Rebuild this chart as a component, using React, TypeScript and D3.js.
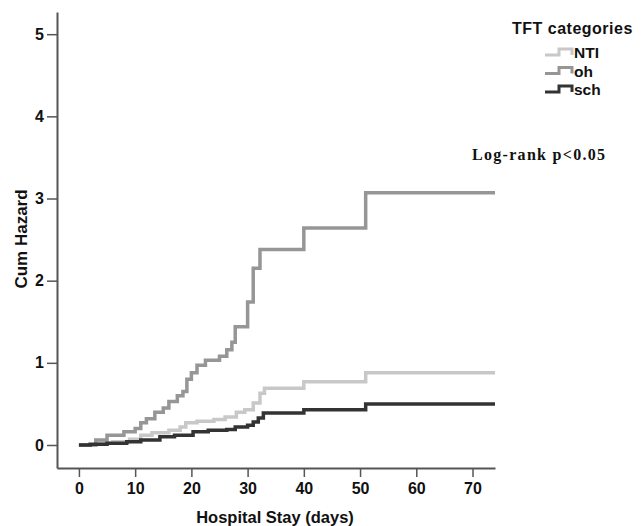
import React, { useEffect, useRef } from 'react';
import * as d3 from 'd3';

// step points: day, cumulative hazard
const ntiDays = [0, 3, 6, 9, 11, 13, 16, 18, 19, 21, 24, 26, 28, 29.5, 31, 32.2, 33, 40, 51, 74];
const ntiVals = [0, 0.02, 0.04, 0.07, 0.12, 0.15, 0.18, 0.22, 0.27, 0.29, 0.31, 0.34, 0.4, 0.43, 0.51, 0.63, 0.69, 0.77, 0.88, 0.88];

const ohDays = [0, 3, 5, 8, 10, 11, 12, 13.5, 15, 16, 17.5, 18.5, 19.2, 20, 21, 22.5, 25, 26.3, 27.2, 27.8, 30, 31, 32.2, 33, 40, 51, 74];
const ohVals = [0, 0.06, 0.12, 0.16, 0.2, 0.27, 0.32, 0.4, 0.45, 0.53, 0.6, 0.65, 0.8, 0.88, 0.97, 1.03, 1.08, 1.16, 1.25, 1.44, 1.74, 2.15, 2.38, 2.38, 2.64, 3.07, 3.07];

const schDays = [0, 2, 5, 8.5, 11, 14.4, 17, 20.3, 23, 26.3, 27.8, 30, 31, 31.9, 32.8, 40, 51, 74];
const schVals = [0, 0.01, 0.02, 0.04, 0.06, 0.1, 0.12, 0.16, 0.18, 0.19, 0.22, 0.24, 0.28, 0.33, 0.39, 0.43, 0.5, 0.5];

const seriesNames = ['NTI', 'oh', 'sch'];
const seriesColors = ['#c8c8c8', '#969696', '#333333'];
const xTicks = [0, 10, 20, 30, 40, 50, 60, 70];
const yTicks = [0, 1, 2, 3, 4, 5];

const App = () => {
    const svgRef = useRef<SVGSVGElement>(null);

    useEffect(() => {
        const svg = d3.select(svgRef.current);
        svg.selectAll('*').remove();

        const font = '"Liberation Sans", Arial, sans-serif';
        const x = d3.scaleLinear().domain([-3.9, 74]).range([57, 495]);
        const y = d3.scaleLinear().domain([-0.28, 5.27]).range([468, 12]);

        // axes
        const xAxis = svg.append('g')
            .attr('transform', 'translate(0,468)')
            .call(d3.axisBottom(x).tickValues(xTicks).tickFormat(d3.format('d')).tickSize(9).tickSizeOuter(0).tickPadding(6));
        const yAxis = svg.append('g')
            .attr('transform', 'translate(57,0)')
            .call(d3.axisLeft(y).tickValues(yTicks).tickFormat(d3.format('d')).tickSize(10).tickSizeOuter(0).tickPadding(3));

        [xAxis, yAxis].forEach(ax => {
            ax.select('.domain').attr('stroke', '#555').attr('stroke-width', 2);
            ax.selectAll('.tick line').attr('stroke', '#555').attr('stroke-width', 1.5);
            ax.selectAll('.tick text')
                .attr('fill', '#111')
                .style('font-family', font)
                .style('font-weight', 'bold')
                .style('font-size', '16px');
        });

        // curves
        const all = [
            { days: ntiDays, vals: ntiVals },
            { days: ohDays, vals: ohVals },
            { days: schDays, vals: schVals }
        ];
        const line = d3.line<[number, number]>()
            .x(d => x(d[0]))
            .y(d => y(d[1]))
            .curve(d3.curveStepAfter);

        all.forEach((s, i) => {
            const pts = s.days.map((d, j) => [d, s.vals[j]] as [number, number]);
            svg.append('path')
                .attr('d', line(pts))
                .attr('fill', 'none')
                .attr('stroke', seriesColors[i])
                .attr('stroke-width', 3.5);
        });

        // axis titles
        svg.append('text')
            .attr('x', 275).attr('y', 523)
            .attr('text-anchor', 'middle')
            .style('font-family', font).style('font-weight', 'bold').style('font-size', '16.5px')
            .attr('fill', '#111')
            .text('Hospital Stay (days)');

        svg.append('text')
            .attr('transform', 'translate(27,239) rotate(-90)')
            .attr('text-anchor', 'middle')
            .style('font-family', font).style('font-weight', 'bold').style('font-size', '17px')
            .attr('fill', '#111')
            .text('Cum Hazard');

        // legend
        svg.append('text')
            .attr('x', 512).attr('y', 34)
            .style('font-family', font).style('font-weight', 'bold').style('font-size', '16px')
            .style('letter-spacing', '0.5px')
            .attr('fill', '#111')
            .text('TFT categories');

        seriesNames.forEach((name, i) => {
            const cy = 52 + i * 18.5;
            svg.append('path')
                .attr('d', `M545,${cy + 3}H559V${cy - 3}H572V${cy + 3}`)
                .attr('fill', 'none')
                .attr('stroke', seriesColors[i])
                .attr('stroke-width', 3);
            svg.append('text')
                .attr('x', 574).attr('y', cy + 6)
                .style('font-family', font).style('font-weight', 'bold').style('font-size', '15.5px')
                .attr('fill', '#111')
                .text(name);
        });

        svg.append('text')
            .attr('x', 472).attr('y', 160)
            .style('font-family', '"Liberation Serif", "Times New Roman", serif')
            .style('font-weight', 'bold').style('font-size', '16px')
            .style('letter-spacing', '1.3px')
            .attr('fill', '#111')
            .text('Log-rank p<0.05');
    }, []);

    return (
        <svg ref={svgRef} width={644} height={526}
            style={{ position: 'absolute', left: 0, top: 0, background: '#fff' }} />
    );
};

export default App;
